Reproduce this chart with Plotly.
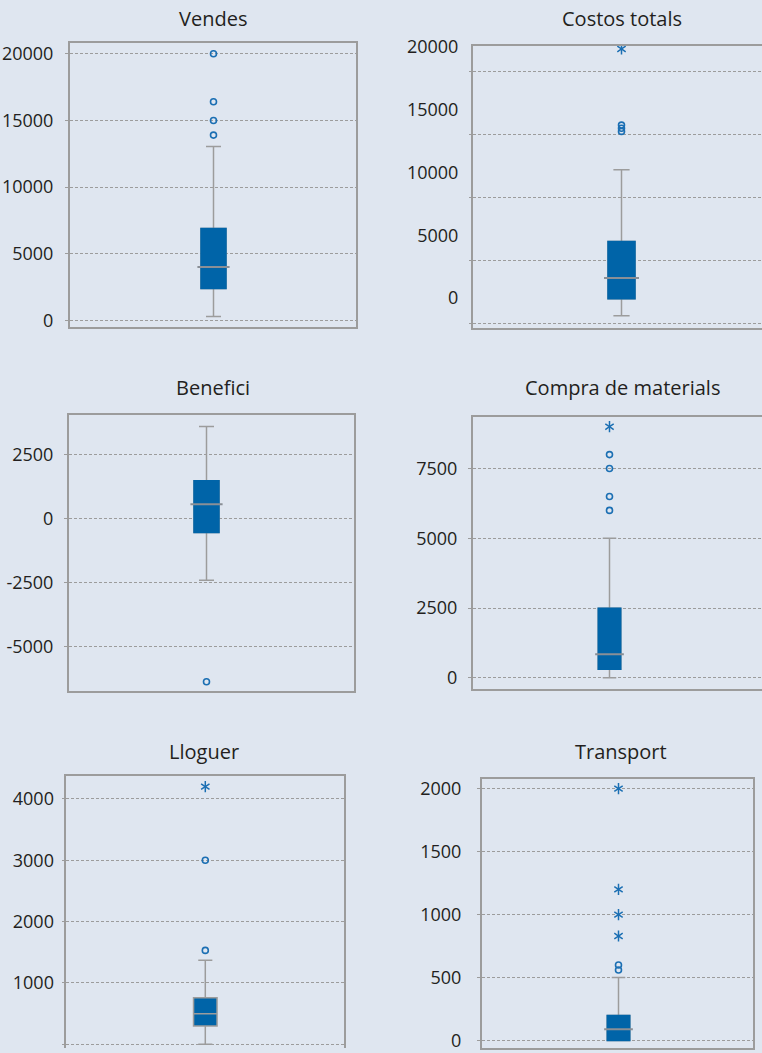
import plotly.graph_objects as go

# Six cost/revenue variables, one box plot each
titles = ["Vendes", "Costos totals", "Benefici", "Compra de materials", "Lloguer", "Transport"]
lower_whisker = [300, -1400, -2400, 0, 0, 0]
q1 = [2400, -50, -540, 300, 300, 0]
median = [4000, 1600, 560, 840, 500, 90]
q3 = [6900, 4500, 1480, 2490, 760, 200]
upper_whisker = [13050, 10200, 3600, 5000, 1370, 500]
outliers = [
    [13900, 15000, 16400, 20000],
    [13250, 13500, 13750],
    [-6360],
    [6000, 6500, 7500, 8000],
    [1530, 3000],
    [560, 600],
]
extremes = [
    [],
    [19800],
    [],
    [9000],
    [4200],
    [830, 1000, 1200, 2000],
]
tick_values = [
    [0, 5000, 10000, 15000, 20000],
    [0, 5000, 10000, 15000, 20000],
    [-5000, -2500, 0, 2500],
    [0, 2500, 5000, 7500],
    [0, 1000, 2000, 3000, 4000],
    [0, 500, 1000, 1500, 2000],
]
# the "Costos totals" panel has its grid lines offset from its labels
costos_grid_values = [-2000, 3000, 8000, 13000, 18000]

W, H = 762, 1053
BG = "#dfe6f0"
BLUE = "#0064a8"
OUT_BLUE = "#1b6fb3"
GRAY = "#9c9c9c"
MED_GRAY = "#8a8f96"
TEXT = "#231f20"
FONT = "Open Sans"

# panel frames in pixels: left, right, top, bottom, box centre, box width
frames = [
    dict(l=69.7, r=356.0, t=31.3, b=320.0, c=213.5, bw=25, yr=[-480, 20825], so=8, tx=213, ty=7),
    dict(l=472.7, r=762.0, t=34.3, b=321.3, c=621.5, bw=27, yr=[-2381, 20056], so=6, tx=622, ty=7),
    dict(l=68.7, r=354.3, t=410.0, b=690.2, c=206.5, bw=25, yr=[-6722, 4031], so=7, tx=213, ty=382),
    dict(l=472.7, r=762.0, t=411.4, b=687.8, c=609.5, bw=22.5, yr=[-393, 9357], so=7, tx=622, ty=382),
    dict(l=66.3, r=344.3, t=776.8, b=1053.0, c=205.3, bw=23.5, yr=[-60, 4368], so=4, tx=204, ty=752),
    dict(l=481.7, r=752.7, t=779.5, b=1053.0, c=618.5, bw=22.5, yr=[-59, 2077], so=12, tx=621, ty=752),
]
open_right = {1, 3}      # right border runs past the page edge
open_bottom = {4}        # bottom border runs past the page edge
gray_outline = {4}       # box drawn with its grey outline

fig = go.Figure()
hov = dict(hoverinfo="skip", showlegend=False)

for i, f in enumerate(frames):
    n = i + 1
    xa, ya = f"x{n}", f"y{n}"
    # full box: whiskers, caps, outline and median in grey
    fig.add_trace(go.Box(
        x=[0], q1=[q1[i]], median=[median[i]], q3=[q3[i]],
        lowerfence=[lower_whisker[i]], upperfence=[upper_whisker[i]],
        width=f["bw"], whiskerwidth=0.6, fillcolor=BLUE,
        line=dict(color=GRAY, width=1.5), boxpoints=False,
        xaxis=xa, yaxis=ya, **hov))
    if i not in gray_outline:
        # solid blue body over the grey outline
        fig.add_trace(go.Box(
            x=[0], q1=[q1[i]], median=[q1[i]], q3=[q3[i]],
            lowerfence=[q1[i]], upperfence=[q3[i]],
            width=f["bw"], whiskerwidth=0, fillcolor=BLUE,
            line=dict(color=BLUE, width=1.5), boxpoints=False,
            xaxis=xa, yaxis=ya, **hov))
        # median line redrawn on top
        fig.add_trace(go.Scatter(
            x=[0], y=[median[i]], mode="markers",
            marker=dict(symbol="line-ew", size=f["bw"] - 2,
                        line=dict(color=MED_GRAY, width=2)),
            xaxis=xa, yaxis=ya, **hov))
    if outliers[i]:
        fig.add_trace(go.Scatter(
            x=[0] * len(outliers[i]), y=outliers[i], mode="markers",
            marker=dict(symbol="circle-open", size=6, color=OUT_BLUE,
                        line=dict(color=OUT_BLUE, width=1.6)),
            xaxis=xa, yaxis=ya, **hov))
    if extremes[i]:
        for sym in ("y-up-open", "y-down-open"):
            fig.add_trace(go.Scatter(
                x=[0] * len(extremes[i]), y=extremes[i], mode="markers",
                marker=dict(symbol=sym, size=7, color=OUT_BLUE,
                            line=dict(color=OUT_BLUE, width=1.5)),
                xaxis=xa, yaxis=ya, **hov))

    xdom = [f["l"] / W, min(f["r"], W) / W]
    ydom = [max(0.0, 1 - f["b"] / H), 1 - f["t"] / H]
    xkey = "xaxis" if n == 1 else f"xaxis{n}"
    ykey = "yaxis" if n == 1 else f"yaxis{n}"

    xaxis = dict(domain=xdom, range=[f["l"] - f["c"], f["r"] - f["c"]], anchor=ya,
                 showgrid=False, zeroline=False, showticklabels=False, ticks="",
                 showline=True, linecolor=GRAY, linewidth=1.5, mirror=True,
                 fixedrange=True)
    if i in open_bottom:
        xaxis.update(side="top", mirror=False)
    grid_here = i != 1
    yaxis = dict(domain=ydom, range=f["yr"], anchor=xa,
                 tickmode="array", tickvals=tick_values[i],
                 ticktext=[str(v) for v in tick_values[i]],
                 tickfont=dict(family=FONT, size=18, color=TEXT),
                 ticks="outside", ticklen=3,
                 tickcolor=GRAY if grid_here else "rgba(0,0,0,0)",
                 ticklabelstandoff=f["so"],
                 showgrid=grid_here, gridcolor=GRAY, gridwidth=1, griddash="3px,2px",
                 zeroline=False, showline=True, linecolor=GRAY, linewidth=1.5,
                 mirror=i not in open_right, fixedrange=True)
    fig.update_layout({xkey: xaxis, ykey: yaxis})

    fig.add_annotation(text=titles[i], xref="paper", yref="paper",
                       x=f["tx"] / W, y=1 - f["ty"] / H, showarrow=False,
                       xanchor="center", yanchor="middle",
                       font=dict(family=FONT, size=20, color=TEXT))

# offset grid for "Costos totals"
f = frames[1]
fig.update_layout(yaxis7=dict(
    overlaying="y2", anchor="x2", side="left",
    domain=[1 - f["b"] / H, 1 - f["t"] / H], range=f["yr"],
    tickmode="array", tickvals=costos_grid_values, showticklabels=False,
    ticks="outside", ticklen=3, tickcolor=GRAY,
    showgrid=True, gridcolor=GRAY, gridwidth=1, griddash="3px,2px",
    zeroline=False, showline=False, fixedrange=True))
fig.add_trace(go.Scatter(x=[None], y=[None], xaxis="x2", yaxis="y7", mode="markers", **hov))

fig.update_layout(
    width=W, height=H, margin=dict(l=0, r=0, t=0, b=0),
    paper_bgcolor=BG, plot_bgcolor=BG, showlegend=False,
)

fig.write_html("out.html", config={"displayModeBar": False})
